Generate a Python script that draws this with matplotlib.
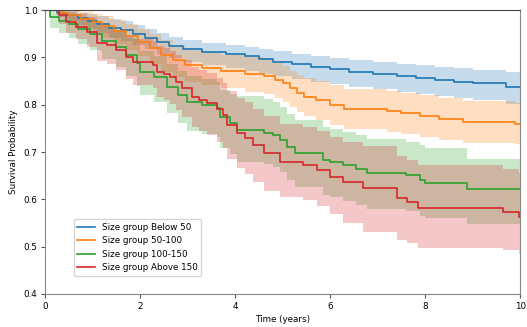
import matplotlib
matplotlib.use("Agg")
import matplotlib.pyplot as plt
import numpy as np

labels = ["Size group Below 50", "Size group 50-100", "Size group 100-150", "Size group Above 150"]
colors = ["#1f77b4", "#ff7f0e", "#2ca02c", "#d62728"]

# Below 50
t_b = [0, 0.25, 0.45, 0.7, 0.9, 1.1, 1.35, 1.6, 1.85, 2.1, 2.35, 2.6, 2.9, 3.3, 3.8, 4.2, 4.5, 4.8, 5.2, 5.6, 6.0, 6.4, 6.9, 7.4, 7.8, 8.2, 8.6, 9.0, 9.7]
s_b = [1.0, 0.995, 0.99, 0.983, 0.977, 0.97, 0.963, 0.957, 0.95, 0.942, 0.933, 0.925, 0.918, 0.912, 0.907, 0.902, 0.897, 0.891, 0.886, 0.88, 0.875, 0.87, 0.866, 0.861, 0.857, 0.852, 0.848, 0.845, 0.838]
hi_b = [1.0, 1.0, 0.998, 0.995, 0.992, 0.988, 0.982, 0.976, 0.969, 0.961, 0.952, 0.944, 0.936, 0.93, 0.926, 0.922, 0.918, 0.913, 0.908, 0.903, 0.899, 0.895, 0.891, 0.887, 0.884, 0.88, 0.877, 0.874, 0.869]
lo_b = [1.0, 0.985, 0.978, 0.968, 0.96, 0.951, 0.942, 0.934, 0.926, 0.917, 0.907, 0.898, 0.89, 0.884, 0.878, 0.872, 0.866, 0.86, 0.855, 0.849, 0.843, 0.838, 0.833, 0.828, 0.823, 0.818, 0.814, 0.81, 0.802]

# 50-100
t_o = [0, 0.3, 0.5, 0.75, 1.0, 1.2, 1.45, 1.7, 1.95, 2.2, 2.45, 2.7, 2.95, 3.3, 3.7, 4.2, 4.6, 4.85, 5.0, 5.15, 5.3, 5.45, 5.7, 6.0, 6.3, 7.2, 7.5, 7.9, 8.3, 8.8, 9.9]
s_o = [1.0, 0.995, 0.99, 0.982, 0.974, 0.966, 0.955, 0.945, 0.933, 0.92, 0.905, 0.894, 0.885, 0.878, 0.872, 0.866, 0.86, 0.853, 0.845, 0.835, 0.825, 0.817, 0.81, 0.8, 0.792, 0.787, 0.782, 0.776, 0.77, 0.763, 0.76]
hi_o = [1.0, 1.0, 1.0, 0.997, 0.992, 0.987, 0.979, 0.971, 0.961, 0.95, 0.937, 0.927, 0.918, 0.912, 0.906, 0.9, 0.894, 0.888, 0.881, 0.872, 0.863, 0.856, 0.85, 0.841, 0.834, 0.829, 0.825, 0.82, 0.814, 0.808, 0.803]
lo_o = [1.0, 0.985, 0.975, 0.963, 0.953, 0.942, 0.928, 0.916, 0.902, 0.887, 0.87, 0.858, 0.849, 0.841, 0.835, 0.828, 0.822, 0.814, 0.805, 0.795, 0.785, 0.776, 0.768, 0.757, 0.748, 0.743, 0.738, 0.731, 0.725, 0.72, 0.717]

# 100-150
t_g = [0, 0.1, 0.3, 0.5, 0.7, 0.95, 1.2, 1.5, 1.7, 1.94, 2.0, 2.3, 2.57, 2.8, 2.99, 3.3, 3.62, 3.68, 3.9, 4.04, 4.6, 4.8, 4.95, 5.1, 5.26, 5.85, 6.0, 6.27, 6.55, 6.78, 7.6, 7.89, 8.0, 8.88]
s_g = [1.0, 0.985, 0.978, 0.97, 0.96, 0.95, 0.935, 0.922, 0.905, 0.888, 0.87, 0.858, 0.838, 0.82, 0.806, 0.8, 0.793, 0.774, 0.762, 0.746, 0.74, 0.735, 0.725, 0.71, 0.698, 0.683, 0.678, 0.672, 0.664, 0.656, 0.651, 0.64, 0.634, 0.622]
hi_g = [1.0, 0.998, 0.995, 0.99, 0.984, 0.977, 0.966, 0.955, 0.942, 0.928, 0.913, 0.903, 0.886, 0.872, 0.86, 0.855, 0.849, 0.832, 0.822, 0.818, 0.812, 0.805, 0.795, 0.78, 0.768, 0.752, 0.748, 0.742, 0.735, 0.728, 0.722, 0.714, 0.709, 0.686]
lo_g = [1.0, 0.963, 0.952, 0.941, 0.928, 0.915, 0.896, 0.88, 0.86, 0.84, 0.82, 0.806, 0.783, 0.762, 0.745, 0.738, 0.731, 0.709, 0.695, 0.68, 0.674, 0.668, 0.658, 0.64, 0.626, 0.61, 0.604, 0.597, 0.588, 0.58, 0.575, 0.565, 0.56, 0.548]

# Above 150
t_r = [0, 0.3, 0.45, 0.65, 0.88, 1.09, 1.3, 1.5, 1.7, 1.85, 2.28, 2.35, 2.5, 2.63, 2.75, 2.88, 3.1, 3.25, 3.4, 3.62, 3.75, 3.83, 4.04, 4.2, 4.38, 4.6, 4.95, 5.43, 5.72, 6.0, 6.27, 6.7, 7.4, 7.62, 7.86, 9.64, 9.98]
s_r = [1.0, 0.99, 0.975, 0.965, 0.954, 0.93, 0.926, 0.915, 0.9, 0.89, 0.885, 0.87, 0.865, 0.858, 0.848, 0.835, 0.816, 0.81, 0.803, 0.79, 0.778, 0.757, 0.74, 0.73, 0.715, 0.698, 0.679, 0.672, 0.662, 0.647, 0.636, 0.624, 0.603, 0.594, 0.582, 0.573, 0.562]
hi_r = [1.0, 1.0, 0.997, 0.992, 0.985, 0.968, 0.965, 0.957, 0.946, 0.939, 0.935, 0.924, 0.92, 0.914, 0.906, 0.895, 0.879, 0.874, 0.868, 0.857, 0.847, 0.829, 0.814, 0.805, 0.792, 0.777, 0.76, 0.754, 0.745, 0.732, 0.722, 0.712, 0.692, 0.684, 0.673, 0.665, 0.655]
lo_r = [1.0, 0.97, 0.952, 0.938, 0.923, 0.893, 0.887, 0.873, 0.854, 0.842, 0.835, 0.816, 0.81, 0.801, 0.789, 0.774, 0.752, 0.745, 0.737, 0.722, 0.709, 0.685, 0.666, 0.654, 0.637, 0.617, 0.605, 0.598, 0.585, 0.57, 0.55, 0.53, 0.514, 0.507, 0.497, 0.492, 0.485]

groups = [
    (t_b, s_b, lo_b, hi_b),
    (t_o, s_o, lo_o, hi_o),
    (t_g, s_g, lo_g, hi_g),
    (t_r, s_r, lo_r, hi_r),
]

x_max = 10
fs = 6.3

fig = plt.figure(figsize=(5.27, 3.27), dpi=100)
ax = fig.add_axes([0.0854, 0.101, 0.9016, 0.868])

for (t, s, lo, hi), lab, c in zip(groups, labels, colors):
    tt = list(t) + [x_max]
    ss = list(s) + [s[-1]]
    ll = list(lo) + [lo[-1]]
    hh = list(hi) + [hi[-1]]
    ax.fill_between(tt, ll, hh, step="post", color=c, alpha=0.25, linewidth=0)
    ax.step(tt, ss, where="post", color=c, lw=1.2, label=lab)

ax.set_xlim(0, 10)
ax.set_ylim(0.4, 1.0)
ax.set_xticks([0, 2, 4, 6, 8, 10])
ax.set_yticks([0.4, 0.5, 0.6, 0.7, 0.8, 0.9, 1.0])
ax.tick_params(labelsize=fs, length=3, width=0.8, color="#555555", pad=2.5)
ax.set_xlabel("Time (years)", fontsize=fs, labelpad=3)
ax.set_ylabel("Survival Probability", fontsize=fs, labelpad=4)
for side in ["left", "bottom", "right"]:
    ax.spines[side].set_color("#888888")
ax.spines["top"].set_color("#444444")

leg = ax.legend(loc="lower left", bbox_to_anchor=(0.06, 0.065), borderaxespad=0,
                fontsize=fs, frameon=True)
leg.get_frame().set_edgecolor("#cccccc")

fig.savefig("out.png", dpi=100)
